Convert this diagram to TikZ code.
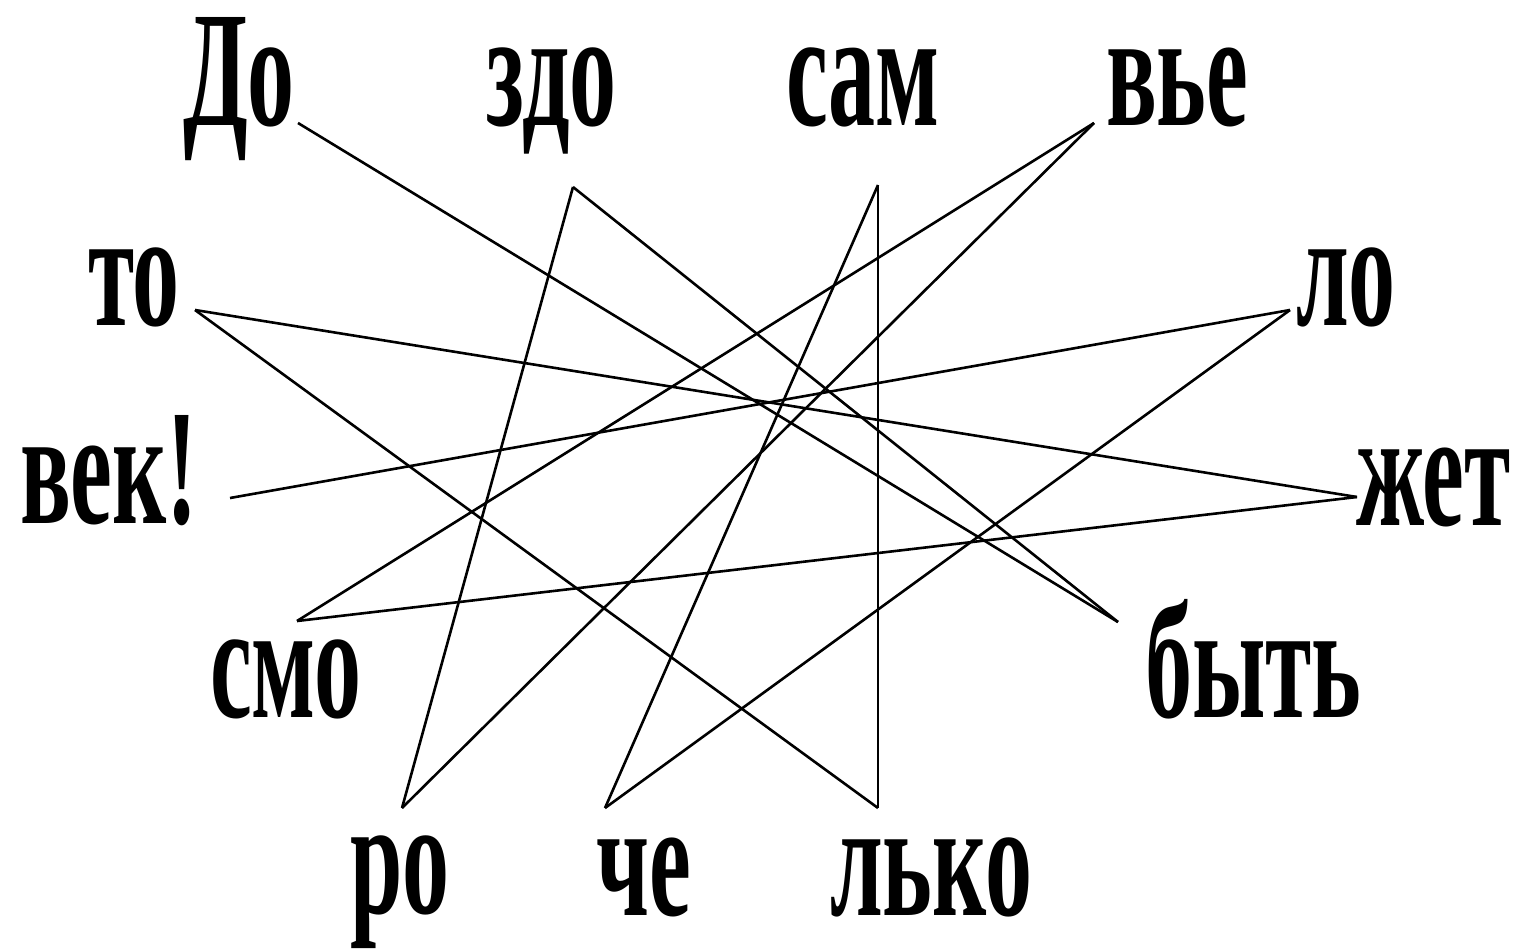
\documentclass[tikz,border=0pt]{standalone}
\usepackage{fontspec}
\setmainfont{Liberation Serif}
\newfontfamily\wordfont{Liberation Serif Bold}[FakeStretch=0.57]
\begin{document}
\begin{tikzpicture}[x=1bp,y=-1bp,
  word/.style={anchor=base west,inner sep=0pt,outer sep=0pt,
    text height=110bp,text depth=30bp,
    font=\fontsize{165bp}{165bp}\wordfont},
  link/.style={line width=2.6bp,black}]
\useasboundingbox (0,0) rectangle (1522,951);
% words
\node[word] (wDo)   at (183,125) {До};
\node[word] (wZdo)  at (486,125) {здо};
\node[word] (wSam)  at (786,125) {сам};
\node[word] (wVe)   at (1106,125) {вье};
\node[word] (wTo)   at (88,325) {то};
\node[word] (wLo)   at (1296,325) {ло};
\node[word] (wVek)  at (20,523) {век!};
\node[word] (wZhet) at (1356,525) {жет};
\node[word] (wSmo)  at (210,717) {смо};
\node[word] (wByt)  at (1145,717) {быть};
\node[word] (wRo)   at (350,913) {ро};
\node[word] (wChe)  at (596,915) {че};
\node[word] (wLko)  at (830,915) {лько};
% connection points
\coordinate (pDo)   at (298,123);
\coordinate (pByt)  at (1118,622);
\coordinate (pZdo)  at (573,187);
\coordinate (pRo)   at (402,808);
\coordinate (pVe)   at (1094,123);
\coordinate (pSmo)  at (297,621);
\coordinate (pZhet) at (1357,497);
\coordinate (pTo)   at (195,310);
\coordinate (pLko)  at (878,808);
\coordinate (pSam)  at (878,185);
\coordinate (pChe)  at (605,808);
\coordinate (pLo)   at (1290,310);
\coordinate (pVek)  at (230,498);
% connectors
\draw[link] (pDo) -- (pByt);
\draw[link] (pByt) -- (pZdo);
\draw[link] (pZdo) -- (pRo);
\draw[link] (pRo) -- (pVe);
\draw[link] (pVe) -- (pSmo);
\draw[link] (pSmo) -- (pZhet);
\draw[link] (pZhet) -- (pTo);
\draw[link] (pTo) -- (pLko);
\draw[link] (pLko) -- (pSam);
\draw[link] (pSam) -- (pChe);
\draw[link] (pChe) -- (pLo);
\draw[link] (pLo) -- (pVek);
\end{tikzpicture}
\end{document}
